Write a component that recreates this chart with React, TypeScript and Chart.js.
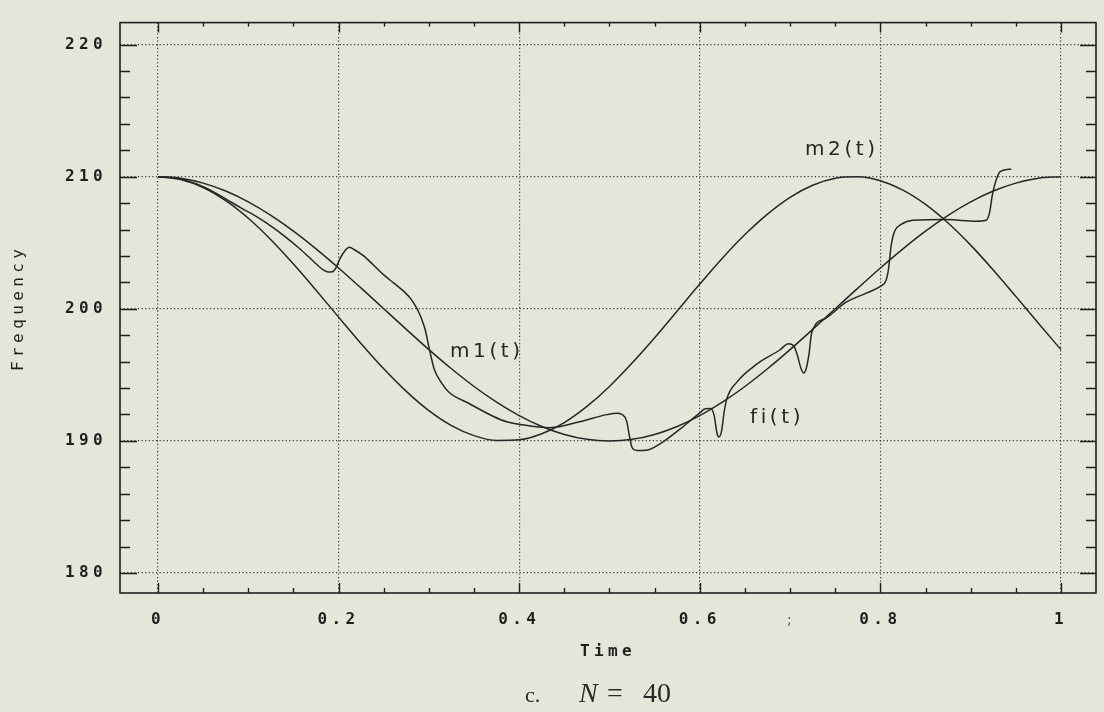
import React, { useEffect, useRef } from 'react';
import { Chart, registerables } from 'chart.js';

Chart.register(...registerables);

// ---------- data ----------
const timeGrid = [
  0, 0.025, 0.05, 0.075, 0.1, 0.125, 0.15, 0.175, 0.2, 0.225, 0.25, 0.275, 0.3, 0.325, 0.35, 0.375, 0.4,
  0.425, 0.45, 0.475, 0.5, 0.525, 0.55, 0.575, 0.6, 0.625, 0.65, 0.675, 0.7, 0.725, 0.75, 0.775, 0.8,
  0.825, 0.85, 0.875, 0.9, 0.925, 0.95, 0.975, 1,
];

const m1Values = [
  210, 209.88, 209.51, 208.91, 208.09, 207.07, 205.88, 204.54, 203.09, 201.56, 200, 198.44, 196.91,
  195.46, 194.12, 192.93, 191.91, 191.09, 190.49, 190.12, 190, 190.12, 190.49, 191.09, 191.91, 192.93,
  194.12, 195.46, 196.91, 198.44, 200, 201.56, 203.09, 204.54, 205.88, 207.07, 208.09, 208.91, 209.51,
  209.88, 210,
];

const m2Values = [
  210, 209.79, 209.18, 208.18, 206.85, 205.23, 203.39, 201.41, 199.37, 197.36, 195.46, 193.75, 192.29,
  191.16, 190.4, 190.03, 190.08, 190.54, 191.39, 192.61, 194.12, 195.89, 197.81, 199.84, 201.87, 203.83,
  205.62, 207.17, 208.44, 209.35, 209.88, 209.99, 209.69, 208.98, 207.9, 206.49, 204.82, 202.94, 200.94,
  198.9, 196.91,
];

const fiTimes = [
  0, 0.016, 0.032, 0.05, 0.065, 0.08, 0.088, 0.094, 0.105, 0.12, 0.14, 0.157, 0.172, 0.183, 0.189, 0.193,
  0.197, 0.2015, 0.207, 0.212, 0.218, 0.227, 0.238, 0.25, 0.262, 0.272, 0.28, 0.286, 0.291, 0.296, 0.3,
  0.303, 0.306, 0.312, 0.322, 0.344, 0.371, 0.386, 0.401, 0.434, 0.467, 0.497, 0.508, 0.514, 0.519, 0.522,
  0.525, 0.53, 0.541, 0.556, 0.578, 0.6, 0.606, 0.612, 0.616, 0.619, 0.621, 0.624, 0.627, 0.63, 0.641,
  0.663, 0.689, 0.698, 0.704, 0.708, 0.712, 0.715, 0.718, 0.721, 0.724, 0.74, 0.762, 0.785, 0.8, 0.806,
  0.809, 0.812, 0.816, 0.823, 0.836, 0.873, 0.906, 0.917, 0.921, 0.924, 0.928, 0.933, 0.945,
];

const fiValues = [
  210, 209.93, 209.7, 209.25, 208.72, 208.1, 207.8, 207.55, 207.15, 206.5, 205.5, 204.54, 203.6, 202.94,
  202.78, 202.8, 203.1, 203.8, 204.4, 204.66, 204.45, 204.04, 203.35, 202.57, 201.9, 201.34, 200.75,
  200.11, 199.4, 198.39, 197.1, 196.2, 195.4, 194.6, 193.7, 192.85, 191.87, 191.45, 191.25, 191.0, 191.45,
  191.99, 192.1, 192.0, 191.5, 190.4, 189.5, 189.28, 189.3, 189.78, 190.89, 192.12, 192.43, 192.45, 191.9,
  190.6, 190.3, 190.7, 192.2, 193.2, 194.45, 195.81, 196.9, 197.36, 197.2, 196.5, 195.5, 195.14, 195.5,
  196.6, 198.2, 199.3, 200.5, 201.2, 201.7, 202.1, 203.0, 204.8, 205.9, 206.38, 206.7, 206.75, 206.63,
  206.7, 207.3, 208.6, 209.7, 210.4, 210.57,
];

const xTickValues = [0, 0.2, 0.4, 0.6, 0.8, 1];
const yTickValues = [180, 190, 200, 210, 220];
const xMinorValues = [0.05, 0.1, 0.15, 0.25, 0.3, 0.35, 0.45, 0.5, 0.55, 0.65, 0.7, 0.75, 0.85, 0.9, 0.95];
const yMinorValues = [182, 184, 186, 188, 192, 194, 196, 198, 202, 204, 206, 208, 212, 214, 216, 218];

const curveLabels = ['m1(t)', 'm2(t)', 'fi(t)'];
const curveLabelTimes = [0.3234, 0.7165, 0.6556];
const curveLabelValues = [196.72, 212.07, 191.77];

const strayMark = ';';
const strayMarkTime = 0.6966;
const strayMarkValue = 176.4;

// ---------- styles ----------
const BG = '#e6e5d9';
const INK = '#1f1f1f';
const LINE = '#262626';
const GRID = '#383838';
const MONO = '"DejaVu Sans Mono", monospace';

const toPoints = (xs: number[], ys: number[]) =>
  xs.slice(0, Math.min(xs.length, ys.length)).map((x, i) => ({ x, y: ys[i] }));

const framePlugin = {
  id: 'framePlugin',
  beforeDraw(chart: any) {
    chart.ctx.letterSpacing = '4.4px';
  },
  afterDraw(chart: any) {
    const { ctx, chartArea: a, scales } = chart;
    const xs = scales.x;
    const ys = scales.y;
    ctx.save();
    ctx.setLineDash([]);
    ctx.strokeStyle = INK;
    ctx.lineWidth = 1.6;
    ctx.strokeRect(a.left, a.top, a.right - a.left, a.bottom - a.top);

    ctx.lineWidth = 1.4;
    ctx.beginPath();
    const xTick = (v: number, lb: number, lt: number) => {
      const px = Math.round(xs.getPixelForValue(v)) + 0.5;
      ctx.moveTo(px, a.bottom);
      ctx.lineTo(px, a.bottom - lb);
      ctx.moveTo(px, a.top);
      ctx.lineTo(px, a.top + lt);
    };
    const yTick = (v: number, ll: number, lr: number) => {
      const py = Math.round(ys.getPixelForValue(v)) + 0.5;
      ctx.moveTo(a.left, py);
      ctx.lineTo(a.left + ll, py);
      ctx.moveTo(a.right, py);
      ctx.lineTo(a.right - lr, py);
    };
    xTickValues.forEach((v) => xTick(v, 10, 10));
    xMinorValues.forEach((v) => xTick(v, 5, 4));
    yTickValues.forEach((v) => yTick(v, 17, 16));
    yMinorValues.forEach((v) => yTick(v, 10, 10));
    ctx.stroke();

    // curve labels
    ctx.fillStyle = '#262626';
    ctx.font = '20px "DejaVu Sans", sans-serif';
    ctx.letterSpacing = '3.6px';
    ctx.textAlign = 'left';
    ctx.textBaseline = 'middle';
    curveLabels.forEach((t, i) => {
      ctx.fillText(t, xs.getPixelForValue(curveLabelTimes[i]), ys.getPixelForValue(curveLabelValues[i]));
    });

    ctx.font = '14px "DejaVu Sans", sans-serif';
    ctx.letterSpacing = '0px';
    ctx.fillStyle = '#555';
    ctx.fillText(strayMark, xs.getPixelForValue(strayMarkTime), ys.getPixelForValue(strayMarkValue));
    ctx.restore();
  },
};

export default function App() {
  const ref = useRef<HTMLCanvasElement>(null);

  useEffect(() => {
    document.body.style.margin = '0';
    document.body.style.background = BG;
    const canvas = ref.current;
    if (!canvas) return;
    const lineStyle = {
      borderColor: LINE,
      borderWidth: 1.5,
      pointRadius: 0,
      fill: false,
      cubicInterpolationMode: 'monotone' as const,
    };
    const tickFont = { family: MONO, size: 16, weight: 'bold' as const };
    const chart = new Chart(canvas, {
      type: 'line',
      data: {
        datasets: [
          { label: 'm1(t)', data: toPoints(timeGrid, m1Values), ...lineStyle },
          { label: 'm2(t)', data: toPoints(timeGrid, m2Values), ...lineStyle },
          { label: 'fi(t)', data: toPoints(fiTimes, fiValues), ...lineStyle },
        ],
      },
      options: {
        responsive: false,
        animation: false,
        devicePixelRatio: 1,
        layout: { padding: { left: 0, right: 8, top: 8, bottom: 0 }, autoPadding: false },
        plugins: { legend: { display: false }, tooltip: { enabled: false } },
        scales: {
          x: {
            type: 'linear',
            min: -0.0421,
            max: 1.0388,
            afterBuildTicks: (s: any) => {
              s.ticks = xTickValues.map((value) => ({ value }));
            },
            afterFit: (s: any) => {
              s.height = 119;
            },
            ticks: {
              callback: (v: any) => String(v),
              font: tickFont,
              color: INK,
              padding: 17,
              maxRotation: 0,
              autoSkip: false,
            },
            grid: { color: GRID, lineWidth: 1.2, drawTicks: false },
            border: { display: false, dash: [1.2, 2.4] },
            title: {
              display: true,
              text: 'Time',
              font: tickFont,
              color: INK,
              padding: { top: 0, bottom: 51 },
            },
          },
          y: {
            type: 'linear',
            min: 178.49,
            max: 221.66,
            afterBuildTicks: (s: any) => {
              s.ticks = yTickValues.map((value) => ({ value }));
            },
            afterFit: (s: any) => {
              s.width = 120;
            },
            ticks: {
              callback: (v: any) => String(v),
              font: tickFont,
              color: INK,
              padding: 13,
              autoSkip: false,
            },
            grid: { color: GRID, lineWidth: 1.2, drawTicks: false },
            border: { display: false, dash: [1.2, 2.4] },
            title: {
              display: true,
              text: 'Frequency',
              font: { family: MONO, size: 16 },
              color: INK,
              padding: { top: 9, bottom: 0 },
            },
          },
        },
      },
      plugins: [framePlugin],
    } as any);
    return () => chart.destroy();
  }, []);

  const serif = '"Liberation Serif", "Times New Roman", serif';
  const piece = (left: number, top: number, size: number, italic = false): React.CSSProperties => ({
    position: 'absolute',
    left,
    top,
    fontFamily: serif,
    fontSize: size,
    lineHeight: `${size}px`,
    fontStyle: italic ? 'italic' : 'normal',
    color: '#2a2a2a',
    whiteSpace: 'nowrap',
  });

  return (
    <div style={{ position: 'relative', width: 1104, height: 712, background: BG, overflow: 'hidden' }}>
      <canvas ref={ref} width={1104} height={712} style={{ position: 'absolute', left: 0, top: 0 }} />
      <span style={piece(525, 683.6, 22)}>c.</span>
      <span style={piece(579, 678.5, 28, true)}>N</span>
      <span style={piece(607, 678.5, 28)}>=</span>
      <span style={piece(643, 678.5, 28)}>40</span>
    </div>
  );
}
